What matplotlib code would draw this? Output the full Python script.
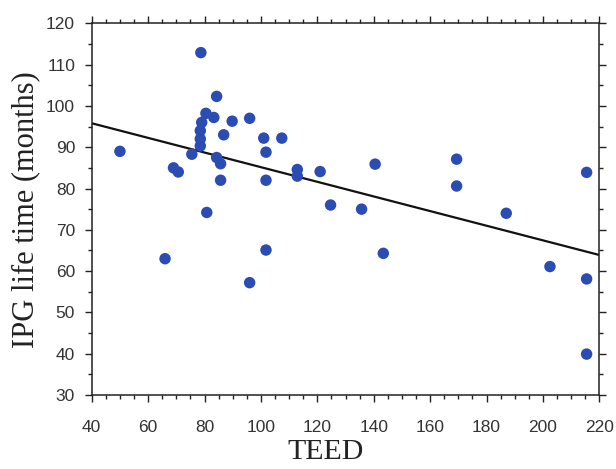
import matplotlib
matplotlib.use("Agg")
import matplotlib.pyplot as plt
from matplotlib.ticker import MultipleLocator
from matplotlib import font_manager

# ---- data ----
teed = [50, 66, 69, 70.7, 75.5, 78.7, 79, 78.5, 78.5, 78.5, 80.5, 80.8, 83.3,
        84.3, 84.3, 85.7, 85.7, 86.8, 89.8, 96, 96, 101, 101.8, 101.8, 101.8,
        107.4, 112.9, 112.9, 121, 124.7, 135.7, 140.5, 143.4, 169.4, 169.4,
        187, 202.5, 215.5, 215.5, 215.5]
ipg_life = [89, 63, 85, 84, 88.3, 112.9, 96, 94, 92, 90.3, 98.2, 74.2, 97.2,
            102.3, 87.5, 86, 82, 93, 96.3, 97, 57.2, 92.2, 88.8, 82, 65.1,
            92.2, 84.6, 83, 84.1, 76, 75, 85.9, 64.3, 87.1, 80.6, 74, 61.1,
            83.9, 58.1, 39.9]
fit_x = [40, 220]
fit_y = [95.8, 63.9]
x_ticks = [40, 60, 80, 100, 120, 140, 160, 180, 200, 220]
y_ticks = [30, 40, 50, 60, 70, 80, 90, 100, 110, 120]

names = {f.name for f in font_manager.fontManager.ttflist}
tick_family = [f for f in ["Liberation Sans Narrow", "Liberation Sans", "DejaVu Sans"] if f in names]
label_family = [f for f in ["Liberation Serif", "DejaVu Serif"] if f in names]
tick_size = 15 if tick_family and tick_family[0] == "Liberation Sans Narrow" else 12.5

fig = plt.figure(figsize=(6.16, 4.69), dpi=100)
ax = fig.add_axes([0.1489, 0.1578, 0.8240, 0.7925])

ax.plot(fit_x, fit_y, color="#111111", lw=1.6, zorder=2)
ax.scatter(teed, ipg_life, s=68, color="#2b4db3", edgecolors="none", zorder=3)

ax.set_xlim(40, 220)
ax.set_ylim(30, 120)
ax.set_xticks(x_ticks)
ax.set_yticks(y_ticks)
ax.xaxis.set_minor_locator(MultipleLocator(5))
ax.yaxis.set_minor_locator(MultipleLocator(5))

for s in ax.spines.values():
    s.set_linewidth(1.1)
    s.set_color("#222222")

ax.tick_params(which="both", direction="out", top=True, right=True,
               color="#222222", width=1.0)
ax.tick_params(which="major", length=5)
ax.tick_params(which="minor", length=3)
ax.tick_params(axis="x", which="major", pad=13, labelsize=tick_size, labelcolor="#333333")
ax.tick_params(axis="y", which="major", pad=7, labelsize=tick_size, labelcolor="#333333")
for lab in ax.get_xticklabels() + ax.get_yticklabels():
    lab.set_family(tick_family)

ax.set_xlabel("TEED", family=label_family, fontsize=21.5, color="#222222", va="center")
ax.set_ylabel("IPG life time (months)", family=label_family, fontsize=22,
              color="#222222", va="center")
ax.xaxis.set_label_coords(0.46, -0.153)
ax.yaxis.set_label_coords(-0.131, 0.5)

fig.savefig("out.png", dpi=100)
